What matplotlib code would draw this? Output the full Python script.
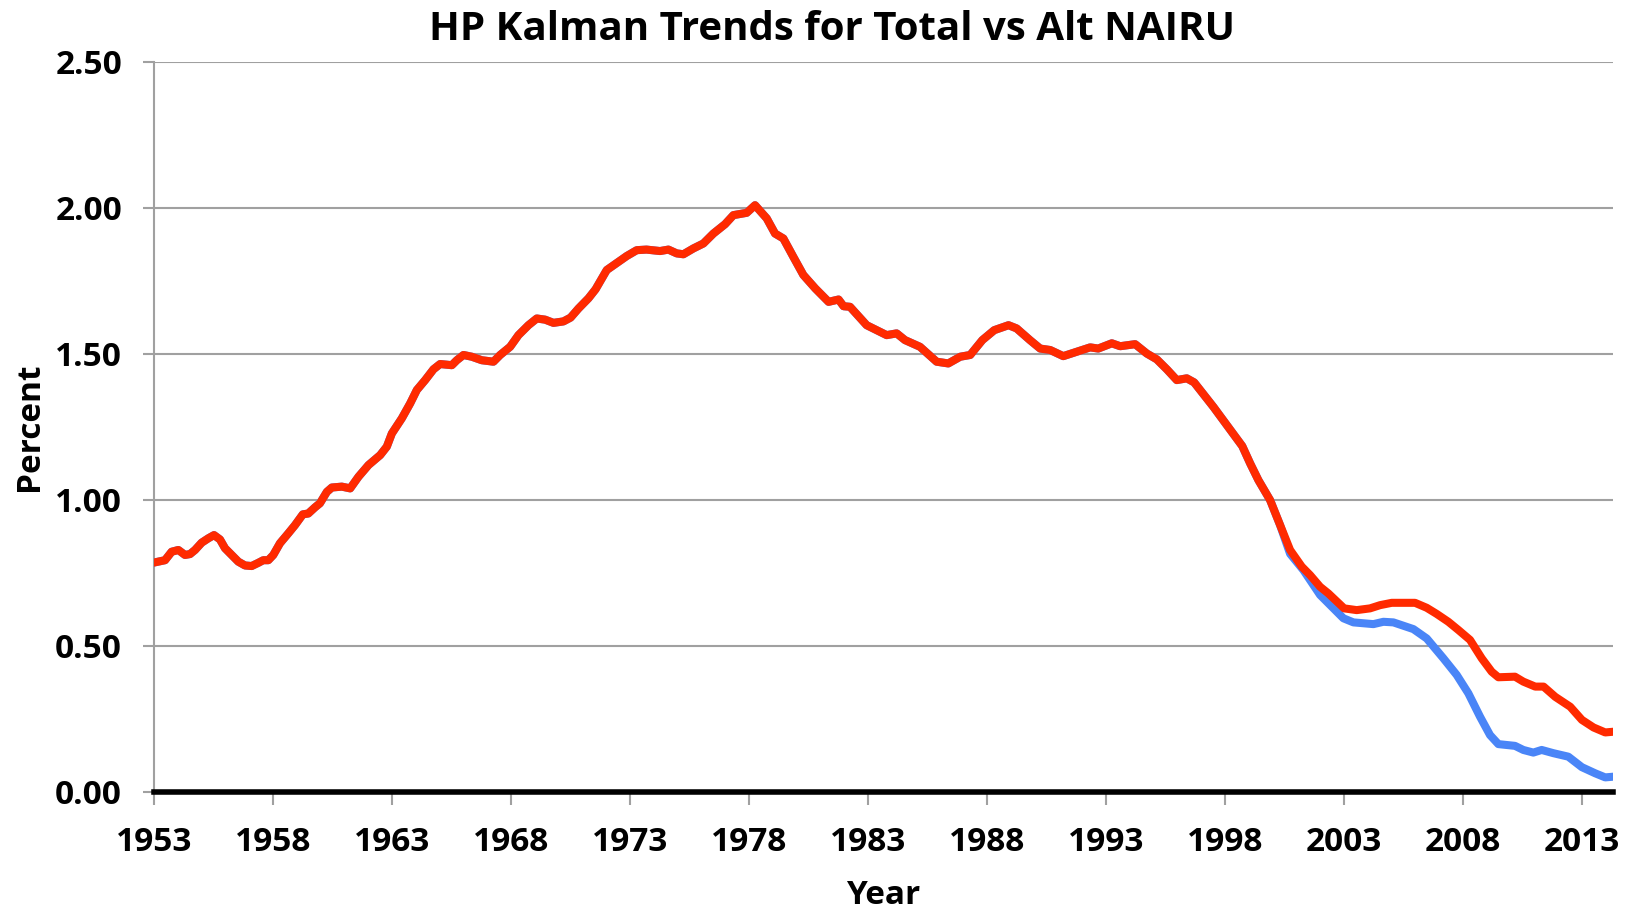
"""HP Kalman trends, total vs alt NAIRU"""
import matplotlib
matplotlib.use("Agg")
import matplotlib.pyplot as plt

plt.rcParams["font.family"] = ["Open Sans", "DejaVu Sans"]
plt.rcParams["font.weight"] = "bold"

# both series sit on top of each other up to ~2000
common_years = [1953.0, 1953.18, 1953.46, 1953.74, 1954.02, 1954.30, 1954.51, 1954.72, 1955.0,
                1955.28, 1955.52, 1955.77, 1955.98, 1956.26, 1956.54, 1956.82, 1957.10, 1957.38,
                1957.59, 1957.80, 1958.01, 1958.29, 1958.64, 1958.92, 1959.25, 1959.48, 1959.76,
                1959.97, 1960.26, 1960.47, 1960.89, 1961.24, 1961.59, 1962.01, 1962.50, 1962.78,
                1962.99, 1963.41, 1963.76, 1964.04, 1964.39, 1964.74, 1965.02, 1965.51, 1965.72,
                1966.0, 1966.35, 1966.77, 1967.26, 1967.54, 1967.96, 1968.31, 1968.73, 1969.08,
                1969.43, 1969.78, 1970.20, 1970.50, 1970.83, 1971.25, 1971.55, 1972.02, 1972.51,
                1972.86, 1973.28, 1973.69, 1974.26, 1974.61, 1974.96, 1975.24, 1975.66, 1976.08,
                1976.50, 1976.99, 1977.34, 1977.90, 1978.25, 1978.74, 1979.09, 1979.44, 1979.86,
                1980.28, 1980.78, 1981.34, 1981.76, 1981.97, 1982.24, 1982.94, 1983.78, 1984.20,
                1984.55, 1985.18, 1985.88, 1986.37, 1986.87, 1987.29, 1987.80, 1988.30, 1988.90,
                1989.24, 1989.80, 1990.23, 1990.65, 1991.20, 1991.76, 1992.33, 1992.67, 1993.24,
                1993.59, 1994.22, 1994.71, 1995.13, 1995.55, 1995.97, 1996.39, 1996.70, 1997.51,
                1998.17, 1998.72, 1999.05, 1999.40, 1999.89, 2000.31]
common_vals = [0.785, 0.788, 0.793, 0.822, 0.828, 0.811, 0.814, 0.828, 0.853,
               0.868, 0.879, 0.864, 0.834, 0.811, 0.788, 0.775, 0.773, 0.784,
               0.793, 0.793, 0.811, 0.851, 0.885, 0.913, 0.950, 0.953, 0.974,
               0.988, 1.027, 1.042, 1.045, 1.039, 1.079, 1.119, 1.153, 1.182,
               1.227, 1.279, 1.330, 1.376, 1.410, 1.447, 1.465, 1.461, 1.478,
               1.496, 1.490, 1.478, 1.473, 1.496, 1.524, 1.564, 1.598, 1.621,
               1.617, 1.606, 1.611, 1.624, 1.655, 1.690, 1.721, 1.787, 1.815,
               1.835, 1.855, 1.857, 1.852, 1.857, 1.844, 1.841, 1.861, 1.878,
               1.912, 1.944, 1.975, 1.983, 2.009, 1.964, 1.912, 1.895, 1.832,
               1.770, 1.724, 1.678, 1.686, 1.663, 1.661, 1.598, 1.564, 1.570,
               1.547, 1.524, 1.473, 1.467, 1.490, 1.496, 1.547, 1.581, 1.598,
               1.587, 1.547, 1.518, 1.513, 1.492, 1.507, 1.522, 1.518, 1.536,
               1.526, 1.533, 1.501, 1.481, 1.447, 1.410, 1.416, 1.402, 1.318,
               1.245, 1.184, 1.125, 1.067, 0.999, 0.913]

# total NAIRU (red) after 2000
red_years = [2000.73, 2001.22, 2001.57, 2001.99, 2002.34, 2003.0, 2003.53, 2004.09, 2004.51,
             2005.0, 2005.98, 2006.47, 2006.89, 2007.38, 2007.80, 2008.29, 2008.78, 2009.20,
             2009.48, 2010.18, 2010.53, 2011.03, 2011.38, 2011.87, 2012.50, 2012.99, 2013.48,
             2013.97, 2014.25]
red_vals = [0.828, 0.771, 0.742, 0.702, 0.679, 0.628, 0.622, 0.628, 0.639,
            0.647, 0.647, 0.630, 0.609, 0.582, 0.554, 0.520, 0.457, 0.411,
            0.392, 0.394, 0.377, 0.360, 0.360, 0.325, 0.291, 0.246, 0.220,
            0.203, 0.205]

# alt NAIRU (blue) after 2000
blue_years = [2000.73, 2001.29, 2001.99, 2002.48, 2002.97, 2003.39, 2004.23, 2004.65, 2005.07,
              2005.91, 2006.47, 2007.17, 2007.73, 2008.22, 2008.71, 2009.13, 2009.48, 2010.18,
              2010.53, 2010.95, 2011.30, 2011.79, 2012.42, 2012.99, 2013.55, 2013.97, 2014.25]
blue_vals = [0.815, 0.759, 0.674, 0.634, 0.594, 0.580, 0.574, 0.582, 0.580,
             0.557, 0.525, 0.457, 0.400, 0.337, 0.257, 0.194, 0.163, 0.157,
             0.143, 0.134, 0.143, 0.132, 0.120, 0.084, 0.063, 0.049, 0.051]

tick_years = list(range(1953, 2014, 5))
y_ticks = [0.0, 0.5, 1.0, 1.5, 2.0, 2.5]

fig = plt.figure(figsize=(16.32, 9.10), dpi=100)
ax = fig.add_axes([0.0944, 0.130, 0.894, 0.802])

ax.plot(common_years + blue_years, common_vals + blue_vals, color="#4A85F7", lw=5.8, zorder=3,
        solid_joinstyle="round")
ax.plot(common_years + red_years, common_vals + red_vals, color="#FF2A00", lw=5.8, zorder=4,
        solid_joinstyle="round")

ax.set_xlim(1953, 2014.3)
ax.set_ylim(0, 2.5)
ax.set_xticks(tick_years)
ax.set_yticks(y_ticks)
ax.set_yticklabels([f"{v:.2f}" for v in y_ticks])
ax.tick_params(axis="both", labelsize=24, direction="out", color="#A0A0A0", width=1.5)
ax.tick_params(axis="y", length=8, pad=15)
ax.tick_params(axis="x", length=9, pad=16)

ax.grid(axis="y", color="#A0A0A0", lw=1.5)
for s in ["top", "right"]:
    ax.spines[s].set_visible(False)
ax.spines["left"].set_color("#A0A0A0")
ax.spines["left"].set_linewidth(1.5)
ax.spines["bottom"].set_color("black")
ax.spines["bottom"].set_linewidth(4)
ax.spines["bottom"].set_zorder(5)

# title is centred on the whole chart, not on the plot area
fig.text(0.510, 0.968, "HP Kalman Trends for Total vs Alt NAIRU", fontsize=29,
         fontweight="bold", ha="center", va="center")
ax.set_xlabel("Year", fontsize=24, fontweight="bold", labelpad=14)
ax.set_ylabel("Percent", fontsize=24, fontweight="bold", labelpad=7)

fig.savefig("out.png", dpi=100)
